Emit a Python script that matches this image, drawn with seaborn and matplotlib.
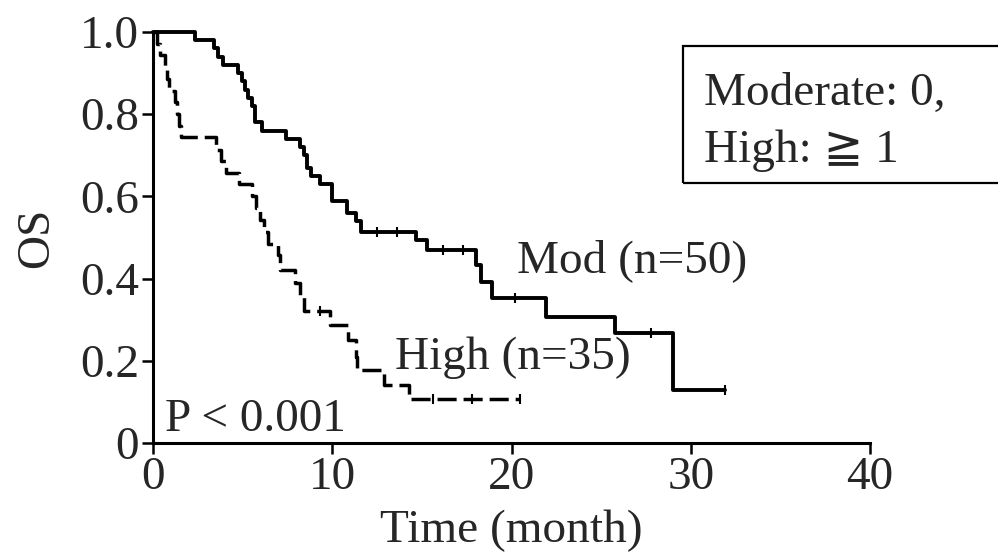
import numpy as np
import pandas as pd
import matplotlib
matplotlib.use("Agg")
import matplotlib.pyplot as plt
import seaborn as sns
from matplotlib.patches import Rectangle

# ---- data ----
mod_time = [0, 2.34, 3.4, 3.6, 3.9, 4.74, 4.95, 5.15, 5.3, 5.5, 5.7, 6.1, 7.4, 8.2, 8.4,
            8.6, 8.8, 9.3, 10.0, 10.8, 11.3, 11.6, 14.7, 15.3, 18.0, 18.3, 18.9, 21.9,
            25.8, 29.0, 31.9]
mod_surv = [1.0, 0.98, 0.96, 0.94, 0.92, 0.90, 0.88, 0.86, 0.84, 0.82, 0.78, 0.76, 0.74,
            0.72, 0.70, 0.67, 0.65, 0.63, 0.59, 0.56, 0.54, 0.513, 0.494, 0.47, 0.433,
            0.392, 0.353, 0.307, 0.268, 0.129, 0.129]
high_time = [0, 0.25, 0.4, 0.65, 0.8, 0.9, 1.2, 1.35, 1.45, 1.55, 3.5, 3.8, 4.1, 4.8, 5.5,
             5.75, 5.95, 6.2, 6.4, 7.0, 7.1, 7.9, 8.2, 8.4, 9.9, 10.9, 11.3, 11.4, 12.9,
             14.3, 20.5]
high_surv = [1.0, 0.971, 0.943, 0.914, 0.886, 0.857, 0.829, 0.80, 0.771, 0.745, 0.714,
             0.686, 0.657, 0.629, 0.60, 0.571, 0.543, 0.514, 0.484, 0.457, 0.42, 0.389,
             0.36, 0.321, 0.287, 0.25, 0.21, 0.178, 0.141, 0.107, 0.107]
mod_censor = [12.5, 13.6, 16.2, 17.3, 20.2, 27.8, 31.9]
high_censor = [9.3, 15.6, 17.8, 20.5]

x_ticks = [0, 10, 20, 30, 40]
y_ticks = [0, 0.2, 0.4, 0.6, 0.8, 1.0]
y_tick_labels = ["0", "0.2", "0.4", "0.6", "0.8", "1.0"]

sns.set_theme(style="ticks")
plt.rcParams["font.family"] = ["Liberation Serif", "DejaVu Serif", "DejaVu Sans"]

W, H = 998, 552
fig = plt.figure(figsize=(W / 100, H / 100), dpi=100)
ax = fig.add_axes([153 / W, (H - 443) / H, (870 - 153) / W, (443 - 32) / H])

df_mod = pd.DataFrame({"time": mod_time, "surv": mod_surv})
df_high = pd.DataFrame({"time": high_time, "surv": high_surv})

sns.lineplot(data=df_mod, x="time", y="surv", ax=ax, drawstyle="steps-post",
             estimator=None, sort=False, color="black", linewidth=2.8)
sns.lineplot(data=df_high, x="time", y="surv", ax=ax, drawstyle="steps-post",
             estimator=None, sort=False, color="black", linewidth=2.5)
ax.lines[-1].set_dashes((5.5, 2))


def step_lookup(times, survs, t):
    idx = np.searchsorted(times, t, side="right") - 1
    return [survs[i] for i in idx]


sns.scatterplot(x=mod_censor, y=step_lookup(mod_time, mod_surv, mod_censor), ax=ax,
                marker="|", s=60, color="black", linewidth=1.5)
sns.scatterplot(x=high_censor, y=step_lookup(high_time, high_surv, high_censor), ax=ax,
                marker="|", s=60, color="black", linewidth=1.5)

ax.set_xlim(0, 40)
ax.set_ylim(0, 1.0)
ax.set_xticks(x_ticks)
ax.set_xticklabels([str(v) for v in x_ticks])
ax.set_yticks(y_ticks)
ax.set_yticklabels(y_tick_labels)
ax.tick_params(axis="both", labelsize=34, length=8, width=1.8, color="black",
               direction="out", pad=2)
for s in ["top", "right"]:
    ax.spines[s].set_visible(False)
for s in ["left", "bottom"]:
    ax.spines[s].set_linewidth(2.2)
    ax.spines[s].set_color("black")
ax.set_xlabel("Time (month)", fontsize=34, labelpad=7)
ax.set_ylabel("OS", fontsize=34, labelpad=16)
ax.set_facecolor("white")
for ln in ax.lines:
    ln.set_clip_on(False)

ax.text(20.3, 0.416, "Mod (n=50)", fontsize=34, ha="left", va="baseline")
ax.text(13.5, 0.18, "High (n=35)", fontsize=34, ha="left", va="baseline")
ax.text(0.67, 0.03, "P < 0.001", fontsize=34, ha="left", va="baseline")

# annotation box in top right
fig.patches.append(Rectangle((683 / W, (H - 183) / H), (1010 - 683) / W, (183 - 46) / H,
                             transform=fig.transFigure, fill=False, edgecolor="black",
                             linewidth=1.6, clip_on=False))
fig.text(704 / W, (H - 105) / H, "Moderate: 0,", fontsize=34, ha="left", va="baseline")
fig.text(704 / W, (H - 162) / H, "High: \u2267 1", fontsize=34, ha="left", va="baseline")

fig.savefig("out.png", dpi=100, facecolor="white")
